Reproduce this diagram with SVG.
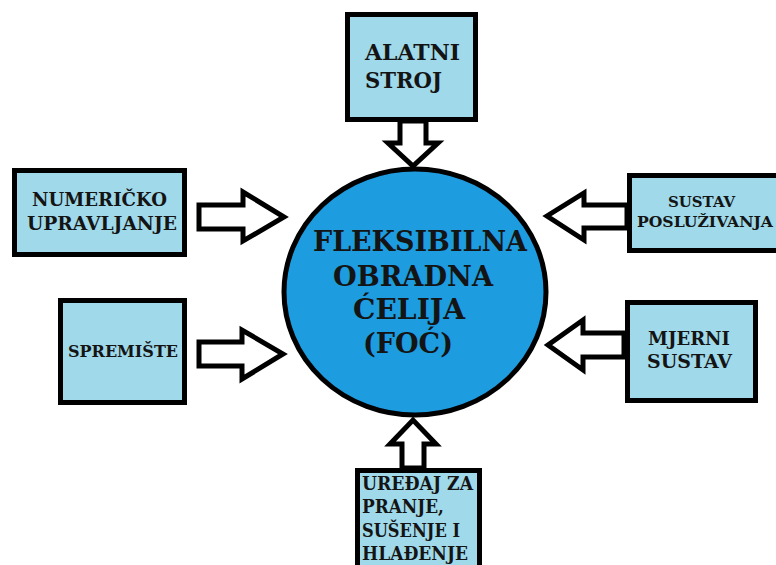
<svg xmlns="http://www.w3.org/2000/svg" width="776" height="565" viewBox="0 0 776 565">
<style>
.box{fill:#9fd9ea;stroke:#000;stroke-width:5}
.arr{fill:#fff;stroke:#000;stroke-width:5;stroke-linejoin:miter}
text{font-family:"DejaVu Serif","Liberation Serif",serif;font-weight:bold;fill:#141414}
</style>
<rect width="776" height="565" fill="#fff"/>
<g id="connectors">
<polygon class="arr" points="400,121 426,121 426,143 438,143 413,166 388,143 400,143"/>
<polygon class="arr" points="402,468 424,468 424,444 436,444 413,420 390,444 402,444"/>
<polygon class="arr" points="199,205 243,205 243,192 284,217 243,241 243,229 199,229"/>
<polygon class="arr" points="199,342 242,342 242,330 283,354 242,379 242,366 199,366"/>
<polygon class="arr" points="627,205 584,205 584,193 547,216 584,240 584,228 627,228"/>
<polygon class="arr" points="624,333 583,333 583,320 548,345 583,370 583,357 624,357"/>
</g>
<g id="center">
<ellipse cx="415" cy="292" rx="131" ry="123" fill="#1d9ce0" stroke="#000" stroke-width="5"/>
<g font-size="28">
<text x="313" y="251" textLength="214" lengthAdjust="spacingAndGlyphs">FLEKSIBILNA</text>
<text x="333" y="286" textLength="160" lengthAdjust="spacingAndGlyphs">OBRADNA</text>
<text x="353" y="319" textLength="112" lengthAdjust="spacingAndGlyphs">ĆELIJA</text>
<text x="363" y="353" textLength="90" lengthAdjust="spacingAndGlyphs">(FOĆ)</text>
</g>
</g>
<g id="alatni-stroj">
<rect class="box" x="347.5" y="14.5" width="128" height="105"/>
<text x="365" y="60" font-size="22" textLength="95" lengthAdjust="spacingAndGlyphs">ALATNI</text>
<text x="365" y="88" font-size="22" textLength="77" lengthAdjust="spacingAndGlyphs">STROJ</text>
</g>
<g id="numericko-upravljanje">
<rect class="box" x="14.5" y="170.5" width="170" height="84"/>
<text x="32" y="206" font-size="18.7" textLength="135" lengthAdjust="spacingAndGlyphs">NUMERIČKO</text>
<text x="27" y="230" font-size="18.7" textLength="150" lengthAdjust="spacingAndGlyphs">UPRAVLJANJE</text>
</g>
<g id="spremiste">
<rect class="box" x="60.5" y="300.5" width="124" height="102"/>
<text x="68" y="357" font-size="17.3" textLength="110" lengthAdjust="spacingAndGlyphs">SPREMIŠTE</text>
</g>
<g id="sustav-posluzivanja">
<rect class="box" x="629.5" y="175.5" width="160" height="75"/>
<text x="668" y="207" font-size="15.5" textLength="67" lengthAdjust="spacingAndGlyphs">SUSTAV</text>
<text x="637" y="227" font-size="15.5" textLength="136" lengthAdjust="spacingAndGlyphs">POSLUŽIVANJA</text>
</g>
<g id="mjerni-sustav">
<rect class="box" x="627.5" y="302.5" width="128" height="98"/>
<text x="648" y="345" font-size="19" textLength="82" lengthAdjust="spacingAndGlyphs">MJERNI</text>
<text x="647" y="368" font-size="19" textLength="85" lengthAdjust="spacingAndGlyphs">SUSTAV</text>
</g>
<g id="uredaj">
<rect class="box" x="357.5" y="470.5" width="122" height="110"/>
<text x="362" y="490" font-size="18.2" textLength="111" lengthAdjust="spacingAndGlyphs">UREĐAJ ZA</text>
<text x="362" y="513" font-size="18.2" textLength="82" lengthAdjust="spacingAndGlyphs">PRANJE,</text>
<text x="362" y="537" font-size="18.2" textLength="98" lengthAdjust="spacingAndGlyphs">SUŠENJE I</text>
<text x="362" y="560" font-size="18.2" textLength="106" lengthAdjust="spacingAndGlyphs">HLAĐENJE</text>
</g>
</svg>
